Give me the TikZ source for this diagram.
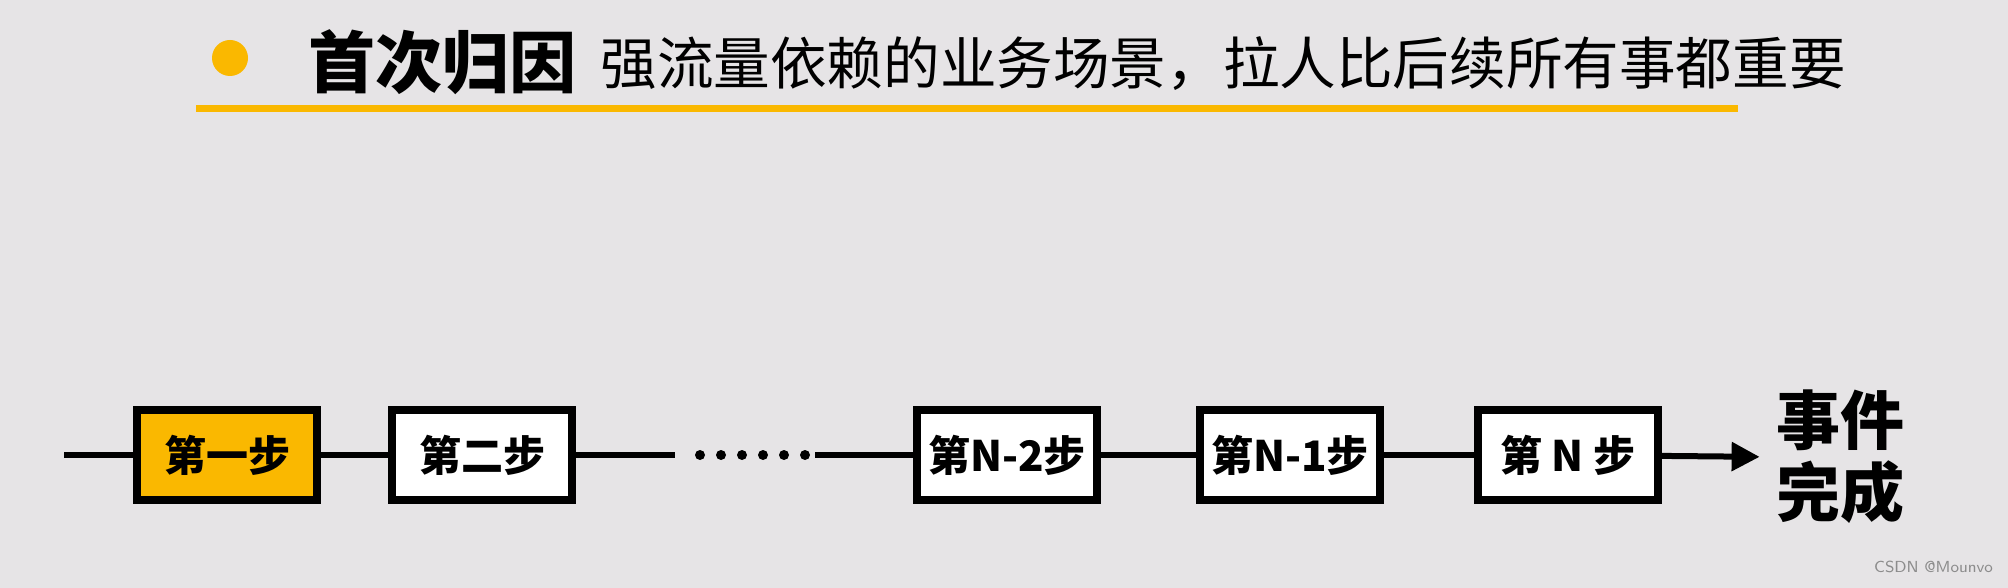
\documentclass[tikz,border=0pt]{standalone}
\usepackage{fontspec}
\newfontfamily\cjk{Noto Sans CJK SC}
\definecolor{bg}{RGB}{230,228,230}
\definecolor{gold}{RGB}{250,184,0}
\definecolor{wm}{RGB}{140,140,140}
\usetikzlibrary{arrows.meta}
\begin{document}
\begin{tikzpicture}[x=0.5pt,y=-0.5pt,
  stepbox/.style={draw=black,line width=4pt,fill=white,minimum width=90pt,minimum height=45pt,font=\cjk\bfseries\fontsize{21}{23}\selectfont,inner sep=0pt},
  conn/.style={line width=3pt,black}]
\useasboundingbox[fill=bg] (0,0) rectangle (2008,588);
\fill[gold] (230,58) circle (9pt);
\node[anchor=west,font=\cjk\bfseries\fontsize{33.5}{36}\selectfont,inner sep=0pt] (t) at (308,62) {首次归因};
\node[anchor=west,font=\cjk\fontsize{28.3}{30}\selectfont,inner sep=0pt] (s) at (600,64) {强流量依赖的业务场景，拉人比后续所有事都重要};
\draw[line width=3.5pt,gold] (196,109) -- (1738,109);
\coordinate (start) at (64,455);
\node[stepbox,fill=gold] (b1) at (227,455) {第一步};
\node[stepbox] (b2) at (482,455) {第二步};
\coordinate (d1) at (675,455);
\coordinate (d2) at (815,455);
\node[stepbox] (b3) at (1007,455) {第N-2步};
\node[stepbox] (b4) at (1290,455) {第N-1步};
\node[stepbox] (b5) at (1568,455) {第 N 步};
\node[font=\cjk\bfseries\fontsize{32}{36}\selectfont,align=center,inner sep=0pt] (e) at (1840,457) {事件\\完成};
\draw[conn] (start) -- (b1);
\draw[conn] (b1) -- (b2);
\draw[conn] (b2) -- (d1);
\draw[conn] (d2) -- (b3);
\draw[conn] (b3) -- (b4);
\draw[conn] (b4) -- (b5);
\draw[conn,shorten >=8pt,-{Triangle[length=14pt,width=14pt]}] (b5) -- (e.west);
\foreach \i in {0,...,5} \fill (700+\i*21,455) circle (2.5pt);
\node[anchor=east,font=\sffamily\fontsize{8}{9}\selectfont,text=wm] (w) at (2000,567) {CSDN @Mounvo};
\end{tikzpicture}
\end{document}
